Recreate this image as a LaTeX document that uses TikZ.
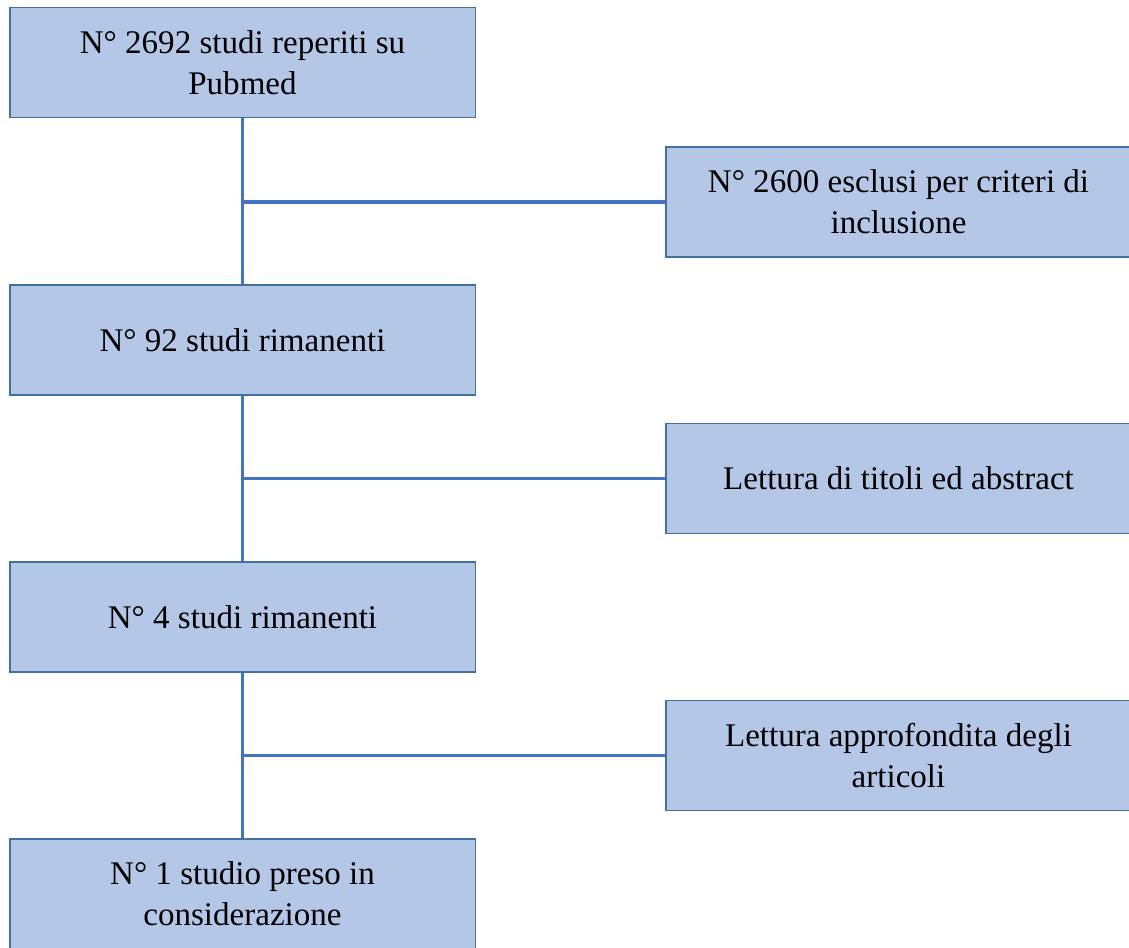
\documentclass[tikz,border=0pt]{standalone}
\usepackage{fontspec}
\setmainfont{Liberation Serif}
\usepackage{tikz}
\definecolor{boxfill}{HTML}{B4C7E7}
\definecolor{boxedge}{HTML}{41719C}
\definecolor{linkblue}{HTML}{4472C4}

\begin{document}
\begin{tikzpicture}[x=0.025cm, y=-0.025cm,
		stepbox/.style={draw=boxedge, fill=boxfill, line width=0.8pt, align=center,
			minimum width=11.625cm, minimum height=2.75cm, inner sep=0pt,
			font=\fontsize{23.5}{29}\selectfont},
		link/.style={draw=linkblue, line width=2.4pt}]
			%%%%% START %%%%%
			
			\useasboundingbox (0, 0) rectangle (1129, 947);
			
			% main column
			\node[stepbox] (found) at (242.5, 62.5) {N° 2692 studi reperiti su\\Pubmed};
			\node[stepbox] (left92) at (242.5, 340) {N° 92 studi rimanenti};
			\node[stepbox] (left4) at (242.5, 617) {N° 4 studi rimanenti};
			\node[stepbox] (kept) at (242.5, 894) {N° 1 studio preso in\\considerazione};
			
			% side boxes
			\node[stepbox] (excl) at (898.5, 202) {N° 2600 esclusi per criteri di\\inclusione};
			\node[stepbox] (titles) at (898.5, 478.5) {Lettura di titoli ed abstract};
			\node[stepbox] (reading) at (898.5, 755.5) {Lettura approfondita degli\\articoli};
			
			\coordinate (j1) at (found.south |- excl.west);
			\coordinate (j2) at (left92.south |- titles.west);
			\coordinate (j3) at (left4.south |- reading.west);
			
			\draw[link] (found.south) -- (left92.north);
			\draw[link] (left92.south) -- (left4.north);
			\draw[link] (left4.south) -- (kept.north);
			
			\draw[link] (j1) -- (excl.west);
			\draw[link] (j2) -- (titles.west);
			\draw[link] (j3) -- (reading.west);
			
			%%%%% END %%%%%
		\end{tikzpicture}
\end{document}
